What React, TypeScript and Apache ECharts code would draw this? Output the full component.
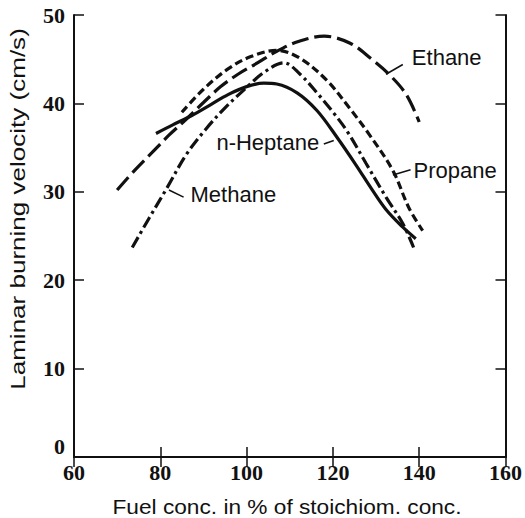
import React, { useEffect, useRef } from "react";
import * as echarts from "echarts";

// Axis ranges / ticks
const xMin = 60, xMax = 160, xStep = 20;
const yMin = 0, yMax = 50, yStep = 10;

// Curves: [fuel conc. % of stoichiometric, burning velocity cm/s]
const ethane: [number, number][] = [
  [70, 30.2], [74, 32.4], [78, 34.4], [82, 36.4], [86, 38.2], [90, 40.1],
  [94, 41.9], [98, 43.3], [102.6, 44.6], [107, 45.9], [112, 47.0], [118, 47.6],
  [124, 46.8], [129, 45.0], [133, 43.3], [137, 41.0], [140, 37.9],
];
const propane: [number, number][] = [
  [85, 39.0], [90, 41.6], [95.7, 43.9], [101, 45.3], [107, 46.0], [112.4, 45.1],
  [118.6, 42.6], [123.8, 39.5], [128.4, 36.5], [133.9, 32.4], [137.6, 28.2], [140.8, 25.6],
];
const methane: [number, number][] = [
  [73.5, 23.7], [77.5, 27.1], [81.5, 30.4], [86, 34.2], [90.4, 37.0], [95, 39.5],
  [100, 41.8], [104, 43.5], [108.6, 44.6], [112.4, 43.3], [116.3, 41.2], [120.2, 38.9],
  [123.5, 36.7], [127.7, 33.2], [132.3, 29.4], [136.2, 26.4], [138.7, 23.7],
];
const heptane: [number, number][] = [
  [79, 36.6], [83, 37.6], [87.2, 38.6], [91.8, 39.9], [95.7, 41.0], [100, 41.9],
  [104, 42.3], [107, 42.2], [111.7, 41.2], [116.3, 39.2], [120.9, 36.2], [125.4, 33.0],
  [129, 30.3], [132.3, 28.0], [136.2, 26.0], [139.2, 24.7],
];

// Curve labels: text anchor and pointer line (data coordinates)
const labelNames = ["Ethane", "Propane", "n-Heptane", "Methane"];
const labelAnchors: [number, number][] = [[138.3, 45.2], [138.7, 32.4], [93.0, 35.6], [87.0, 29.7]];
const pointerFrom: [number, number][] = [[132.3, 43.3], [133.9, 31.9], [117.9, 35.4], [82.0, 30.2]];
const pointerTo: [number, number][] = [[136.2, 44.4], [138.0, 32.5], [120.2, 35.8], [85.4, 29.4]];

const xTitle = "Fuel conc. in % of stoichiom. conc.";
const yTitle = "Laminar burning velocity (cm/s)";

export default function App() {
  const ref = useRef<HTMLDivElement>(null);
  useEffect(() => {
    const chart = echarts.init(ref.current!, null, { renderer: "svg" });
    const sans = '"Liberation Sans", Arial, Helvetica, sans-serif';
    const serif = '"Liberation Serif", "Times New Roman", serif';
    const ink = "#111";
    const tickLabel = { color: ink, fontFamily: serif, fontWeight: "bold", fontSize: 22 };
    const line = (w: number) => ({ show: true, lineStyle: { color: ink, width: w } });
    const tick = { show: true, inside: true, length: 10, lineStyle: { color: ink, width: 1.5 } };

    const mkSeries = (name: string, data: [number, number][], type: any) => ({
      name,
      type: "line",
      data,
      smooth: 0.35,
      symbol: "none",
      xAxisIndex: 0,
      yAxisIndex: 0,
      lineStyle: { color: ink, width: 3.2, type, cap: "butt" },
    });

    chart.setOption({
      animation: false,
      backgroundColor: "#fff",
      grid: { left: 74, right: 14, top: 15, bottom: 61 },
      xAxis: [
        {
          type: "value", min: xMin, max: xMax, interval: xStep, position: "bottom",
          axisLine: line(2), axisTick: tick, splitLine: { show: false },
          axisLabel: { ...tickLabel, margin: 4 },
        },
        {
          type: "value", min: xMin, max: xMax, interval: xStep, position: "top",
          axisLine: line(1.5), axisTick: tick, splitLine: { show: false },
          axisLabel: { show: false },
        },
      ],
      yAxis: [
        {
          type: "value", min: yMin, max: yMax, interval: yStep, position: "left",
          axisLine: line(2), axisTick: tick, splitLine: { show: false },
          axisLabel: { ...tickLabel, margin: 9, verticalAlignMinLabel: "bottom" },
        },
        {
          type: "value", min: yMin, max: yMax, interval: yStep, position: "right",
          axisLine: line(2), axisTick: tick, splitLine: { show: false },
          axisLabel: { show: false },
        },
      ],
      series: [
        mkSeries("Ethane", ethane, [17, 6]),
        mkSeries("Propane", propane, [8, 4]),
        mkSeries("Methane", methane, [12, 4, 3, 4]),
        mkSeries("n-Heptane", heptane, "solid"),
      ],
    });

    const toPx = (p: [number, number]) =>
      chart.convertToPixel({ xAxisIndex: 0, yAxisIndex: 0 }, p) as number[];

    const graphics: any[] = [];
    labelNames.forEach((name, i) => {
      const a = toPx(labelAnchors[i]);
      const f = toPx(pointerFrom[i]);
      const t = toPx(pointerTo[i]);
      graphics.push({
        type: "text", x: a[0], y: a[1],
        style: { text: name, fill: ink, font: `22px ${sans}`, textAlign: "left", textVerticalAlign: "middle" },
      });
      graphics.push({
        type: "line", shape: { x1: f[0], y1: f[1], x2: t[0], y2: t[1] },
        style: { stroke: ink, lineWidth: 1.5 },
      });
    });
    graphics.push({
      type: "text", x: 287, y: 507, scaleX: 1.08,
      style: { text: xTitle, fill: ink, font: `21px ${sans}`, textAlign: "center", textVerticalAlign: "middle" },
    });
    graphics.push({
      type: "text", x: 18, y: 209, rotation: Math.PI / 2, scaleX: 1.24,
      style: { text: yTitle, fill: ink, font: `21px ${sans}`, textAlign: "center", textVerticalAlign: "middle" },
    });
    chart.setOption({ graphic: graphics });

    return () => chart.dispose();
  }, []);
  return (
    <div
      ref={ref}
      style={{ width: 525, height: 518, position: "absolute", left: 0, top: 0 }}
    />
  );
}
